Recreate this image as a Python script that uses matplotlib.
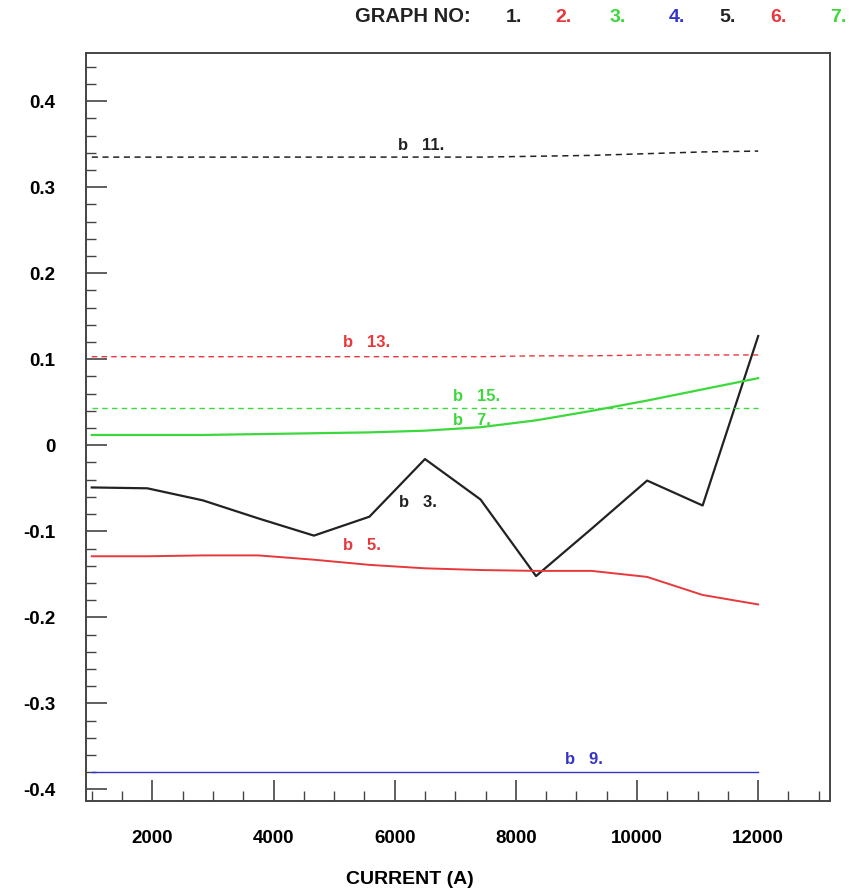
# coding=utf-8

import matplotlib.pyplot as plt
from matplotlib.ticker import MultipleLocator, FuncFormatter

plt.rcParams['font.family'] = ['Liberation Sans', 'DejaVu Sans']
plt.rcParams['font.weight'] = 'bold'

# ---------------- 数据 ----------------
current = [1000, 1917, 2833, 3750, 4667, 5583, 6500, 7417, 8333, 9250, 10167, 11083, 12000]

b3 = [-0.049, -0.050, -0.064, -0.085, -0.105, -0.083, -0.016, -0.063, -0.152, -0.097, -0.041, -0.070, 0.127]
b5 = [-0.129, -0.129, -0.128, -0.128, -0.133, -0.139, -0.143, -0.145, -0.146, -0.146, -0.153, -0.174, -0.185]
b7 = [0.012, 0.012, 0.012, 0.013, 0.014, 0.015, 0.017, 0.021, 0.029, 0.040, 0.052, 0.065, 0.078]
b9 = [-0.380] * 13
b11 = [0.335, 0.335, 0.335, 0.335, 0.335, 0.335, 0.335, 0.335, 0.336, 0.337, 0.339, 0.341, 0.342]
b13 = [0.103, 0.103, 0.103, 0.103, 0.103, 0.103, 0.103, 0.103, 0.104, 0.104, 0.105, 0.105, 0.105]
b15 = [0.043] * 13

graph_no = ['1.', '2.', '3.', '4.', '5.', '6.', '7.']

BLACK = '#222222'
RED = '#e8383c'
GREEN = '#3cd83c'
BLUE = '#3434c8'
graph_colors = [BLACK, RED, GREEN, BLUE, BLACK, RED, GREEN]

fig = plt.figure(figsize=(8.49, 8.91), dpi=100)
ax = fig.add_axes([0.1013, 0.101, 0.8763, 0.8395])

# 实线
ax.plot(current, b3, color=BLACK, lw=1.6)
ax.plot(current, b5, color=RED, lw=1.4)
ax.plot(current, b7, color=GREEN, lw=1.6)
ax.plot(current, b9, color=BLUE, lw=1.0)
# 虚线
ax.plot(current, b11, color=BLACK, lw=1.1, dashes=(4, 3))
ax.plot(current, b13, color=RED, lw=1.0, dashes=(4, 3))
ax.plot(current, b15, color=GREEN, lw=1.0, dashes=(4, 3))

# 曲线标注
labels = [
    ('b   11.', 6060, 0.349, BLACK),
    ('b   13.', 5150, 0.119, RED),
    ('b   15.', 6960, 0.057, GREEN),
    ('b   7.', 6960, 0.029, GREEN),
    ('b   3.', 6070, -0.067, BLACK),
    ('b   5.', 5150, -0.116, RED),
    ('b   9.', 8810, -0.365, BLUE),
]
for txt, x, y, c in labels:
    ax.text(x, y, txt, color=c, fontsize=12, fontweight='bold', va='center', ha='left')

ax.set_xlim(905, 13185)
ax.set_ylim(-0.4135, 0.456)

ax.xaxis.set_major_locator(MultipleLocator(2000))
ax.xaxis.set_minor_locator(MultipleLocator(500))
ax.yaxis.set_major_locator(MultipleLocator(0.1))
ax.yaxis.set_minor_locator(MultipleLocator(0.02))
ax.yaxis.set_major_formatter(FuncFormatter(lambda v, p: '0' if abs(v) < 1e-9 else '%.1f' % v))

ax.tick_params(axis='both', which='major', direction='in', length=15, width=1.2,
               labelsize=13.5, color='#444444')
ax.tick_params(axis='y', which='major', pad=22)
ax.tick_params(axis='x', which='major', pad=21)
ax.tick_params(axis='both', which='minor', direction='in', length=7, width=1.0, color='#444444')
for lab in ax.get_xticklabels() + ax.get_yticklabels():
    lab.set_fontweight('bold')

for s in ax.spines.values():
    s.set_linewidth(1.4)
    s.set_color('#444444')

ax.set_xlabel('CURRENT (A)', fontsize=14, fontweight='bold')
ax.xaxis.set_label_coords(0.435, -0.093)

# 顶部图号
fig.text(355 / 849, 1 - 17 / 891, 'GRAPH NO:', fontsize=14.5, fontweight='bold',
         va='center', ha='left', color=BLACK)
xs = [514, 563, 618, 677, 728, 778, 838]
for t, c, x in zip(graph_no, graph_colors, xs):
    fig.text(x / 849, 1 - 17 / 891, t, fontsize=14, fontweight='bold',
             va='center', ha='center', color=c)

plt.savefig('out.png', dpi=100)
